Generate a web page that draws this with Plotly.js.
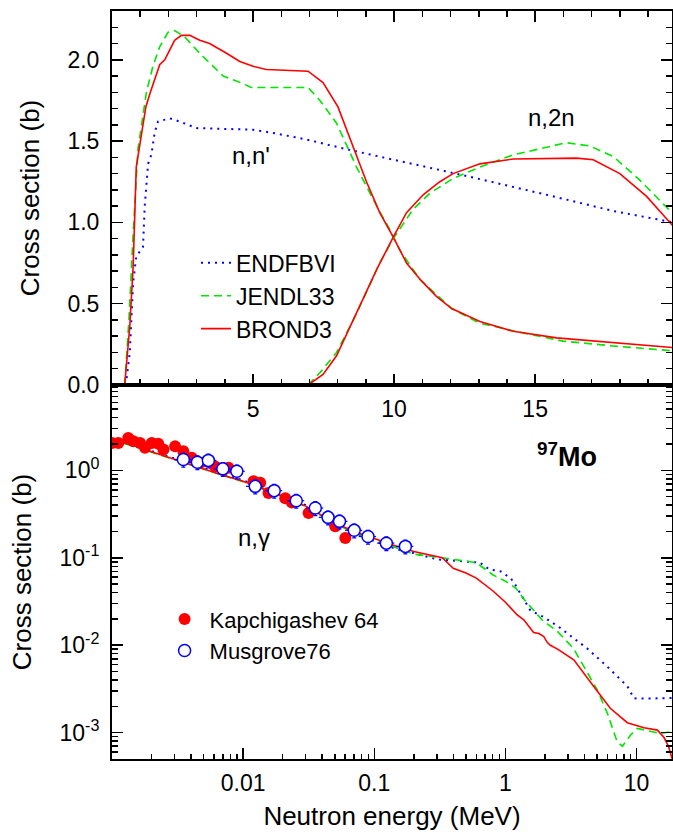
<!DOCTYPE html>
<html>
<head>
<meta charset="utf-8">
<script src="https://cdn.plot.ly/plotly-3.0.1.min.js"></script>
<style>html,body{margin:0;padding:0;background:#fff;}#chart{width:673px;height:839px;}</style>
</head>
<body>
<div id="chart"></div>
<script>
// ---------- Top panel: n,n' and n,2n (linear, MeV / barn) ----------
const brondNNx = [0.45, 0.63, 0.75, 0.86, 0.98, 1.10, 1.20, 1.34, 1.51, 1.69, 1.87, 2.05, 2.22, 2.46, 2.76, 3.11, 3.46, 4.06, 4.53, 5.0, 5.47, 6.95, 7.48, 8.01, 8.55, 9.02, 9.49, 9.97, 10.44, 10.97, 11.5, 12.04, 13.04, 14.22, 15.76, 17.77, 19.9];
const brondNNy = [0, 0.36, 0.73, 1.34, 1.47, 1.59, 1.71, 1.79, 1.88, 1.97, 2.00, 2.06, 2.12, 2.15, 2.15, 2.12, 2.10, 2.04, 1.99, 1.96, 1.94, 1.93, 1.86, 1.71, 1.47, 1.25, 1.06, 0.91, 0.75, 0.64, 0.545, 0.47, 0.39, 0.33, 0.29, 0.26, 0.23];

const jendlNNx = [0.45, 0.60, 0.75, 0.92, 1.22, 1.45, 1.69, 1.99, 2.22, 2.58, 3.11, 3.58, 3.94, 4.41, 4.94, 6.95, 7.37, 7.96, 8.67, 9.38, 9.85, 10.2, 10.91, 12.04, 13.04, 14.57, 15.99, 17.77, 19.9];
const jendlNNy = [0, 0.40, 0.93, 1.45, 1.80, 1.96, 2.08, 2.17, 2.18, 2.14, 2.04, 1.96, 1.90, 1.87, 1.83, 1.83, 1.75, 1.61, 1.34, 1.10, 0.955, 0.83, 0.65, 0.47, 0.38, 0.32, 0.27, 0.24, 0.21];

const endfNNx = [0.49, 0.63, 0.75, 0.86, 1.10, 1.16, 1.28, 1.40, 1.51, 1.63, 2.05, 2.40, 2.99, 5.0, 5.71, 6.89, 8.31, 9.49, 10.2, 12.45, 15.4, 17.77, 19.9];
const endfNNy = [0, 0.20, 0.63, 0.79, 0.85, 1.10, 1.36, 1.42, 1.55, 1.62, 1.64, 1.62, 1.58, 1.57, 1.55, 1.51, 1.45, 1.405, 1.375, 1.29, 1.17, 1.07, 1.0];

const brondN2Nx = [6.95, 7.48, 7.96, 8.55, 9.38, 9.97, 10.44, 11.03, 11.62, 12.09, 13.04, 14.22, 16.47, 17.06, 18.0, 18.95, 19.9];
const brondN2Ny = [0, 0.065, 0.18, 0.40, 0.71, 0.91, 1.06, 1.17, 1.25, 1.30, 1.36, 1.39, 1.395, 1.385, 1.30, 1.16, 0.975];

const jendlN2Nx = [6.95, 7.37, 7.96, 8.67, 9.49, 9.97, 10.67, 11.27, 12.09, 13.04, 14.22, 15.17, 16.11, 16.94, 17.77, 18.71, 19.66, 19.9];
const jendlN2Ny = [0, 0.075, 0.20, 0.44, 0.75, 0.90, 1.08, 1.18, 1.27, 1.34, 1.415, 1.455, 1.49, 1.47, 1.405, 1.26, 1.09, 1.05];

// ---------- Bottom panel: n,gamma (log-log) ----------
const brondNGx = [0.001, 0.0015, 0.002, 0.003, 0.005, 0.007, 0.01, 0.015, 0.02, 0.03, 0.05, 0.07, 0.1, 0.15, 0.2, 0.3, 0.33, 0.4, 0.5, 0.6, 0.8, 1.0, 1.23, 1.38, 1.64, 1.8, 1.96, 2.08, 2.2, 2.48, 3.32, 4.7, 6.3, 8.5, 11.4, 14.4, 16.2, 17.5, 18.7];
const brondNGy = [2.25, 1.90, 1.63, 1.33, 1.03, 0.88, 0.75, 0.60, 0.51, 0.39, 0.25, 0.20, 0.165, 0.135, 0.118, 0.103, 0.100, 0.076, 0.067, 0.0585, 0.042, 0.031, 0.0222, 0.0195, 0.0140, 0.0136, 0.0126, 0.0108, 0.0100, 0.0091, 0.0068, 0.0034, 0.0019, 0.0013, 0.00114, 0.00107, 0.00088, 0.0007, 0.0005];

const jendlNGx = [0.001, 0.0015, 0.002, 0.003, 0.005, 0.007, 0.01, 0.015, 0.02, 0.03, 0.05, 0.07, 0.1, 0.15, 0.2, 0.33, 0.6, 0.8, 1.0, 1.2, 1.4, 1.9, 2.5, 3.3, 4.2, 5.0, 6.0, 7.1, 7.8, 9.0, 10.1, 15.2, 18.7];
const jendlNGy = [2.20, 1.87, 1.61, 1.32, 1.02, 0.87, 0.74, 0.59, 0.50, 0.385, 0.245, 0.195, 0.16, 0.13, 0.11, 0.100, 0.088, 0.064, 0.054, 0.045, 0.033, 0.0195, 0.0143, 0.0092, 0.0048, 0.0031, 0.00166, 0.00079, 0.0007, 0.00094, 0.00112, 0.00098, 0.00103];

const endfNGx = [0.001, 0.0015, 0.002, 0.003, 0.005, 0.007, 0.01, 0.015, 0.02, 0.03, 0.05, 0.07, 0.1, 0.15, 0.2, 0.3, 0.64, 0.75, 0.92, 1.1, 1.19, 1.30, 1.55, 1.96, 2.63, 3.32, 4.2, 5.97, 8.5, 9.55, 12.1, 19];
const endfNGy = [2.30, 1.95, 1.67, 1.36, 1.05, 0.90, 0.77, 0.61, 0.52, 0.40, 0.255, 0.195, 0.155, 0.125, 0.113, 0.096, 0.088, 0.074, 0.070, 0.058, 0.049, 0.039, 0.025, 0.021, 0.0157, 0.012, 0.0092, 0.0057, 0.0034, 0.00247, 0.00245, 0.0025];

const kapchE = [0.00100, 0.001117, 0.00133, 0.001455, 0.001637, 0.001786, 0.00201, 0.002254, 0.002466, 0.003027, 0.0035, 0.004055, 0.0047, 0.00528, 0.00611, 0.00773, 0.0120, 0.01349, 0.0156, 0.02094, 0.02355, 0.03155, 0.0504, 0.0601];
const kapchS = [2.05, 2.06, 2.35, 2.15, 2.06, 1.81, 2.06, 2.02, 1.73, 1.88, 1.65, 1.39, 1.22, 1.27, 1.11, 1.07, 0.75, 0.72, 0.55, 0.48, 0.43, 0.325, 0.229, 0.168];

const musgE = [0.0035, 0.00448, 0.00543, 0.0070, 0.00895, 0.01236, 0.01726, 0.0254, 0.0355, 0.0444, 0.0543, 0.0703, 0.0895, 0.1236, 0.1726];
const musgS = [1.33, 1.24, 1.30, 1.04, 0.975, 0.656, 0.586, 0.45, 0.371, 0.29, 0.261, 0.206, 0.175, 0.147, 0.135];

// Axis tick labels
const topXTicks = [5, 10, 15];
const topXText = ['5', '10', '15'];
const topYTicks = [0, 0.5, 1, 1.5, 2];
const topYText = ['0.0', '0.5', '1.0', '1.5', '2.0'];
const botXTicks = [0.01, 0.1, 1, 10];
const botXText = ['0.01', '0.1', '1', '10'];
const botYTicks = [0.001, 0.01, 0.1, 1];
const botYText = ['10<sup>-3</sup>', '10<sup>-2</sup>', '10<sup>-1</sup>', '10<sup>0</sup>'];

const RED = '#ff0000', GREEN = '#00e600', BLUE = '#0000ff';
const FONT = 'Liberation Sans, Arial, Helvetica, sans-serif';

const endfLine = {color: BLUE, width: 2, dash: '2px,5px'};
const jendlLine = {color: GREEN, width: 1.6, dash: '8px,5px'};
const brondLine = {color: RED, width: 1.6};

const traces = [
  {x: endfNNx, y: endfNNy, mode: 'lines', line: endfLine, name: 'ENDFBVI', xaxis: 'x', yaxis: 'y', legend: 'legend'},
  {x: jendlNNx, y: jendlNNy, mode: 'lines', line: jendlLine, name: 'JENDL33', xaxis: 'x', yaxis: 'y', legend: 'legend'},
  {x: brondNNx, y: brondNNy, mode: 'lines', line: brondLine, name: 'BROND3', xaxis: 'x', yaxis: 'y', legend: 'legend'},
  {x: jendlN2Nx, y: jendlN2Ny, mode: 'lines', line: jendlLine, name: 'JENDL33 n,2n', showlegend: false, xaxis: 'x', yaxis: 'y'},
  {x: brondN2Nx, y: brondN2Ny, mode: 'lines', line: brondLine, name: 'BROND3 n,2n', showlegend: false, xaxis: 'x', yaxis: 'y'},
  {x: endfNGx, y: endfNGy, mode: 'lines', line: endfLine, name: 'ENDFBVI n,g', showlegend: false, xaxis: 'x2', yaxis: 'y2'},
  {x: jendlNGx, y: jendlNGy, mode: 'lines', line: jendlLine, name: 'JENDL33 n,g', showlegend: false, xaxis: 'x2', yaxis: 'y2'},
  {x: brondNGx, y: brondNGy, mode: 'lines', line: brondLine, name: 'BROND3 n,g', showlegend: false, xaxis: 'x2', yaxis: 'y2'},
  {x: kapchE, y: kapchS, mode: 'markers', name: 'Kapchigashev 64', xaxis: 'x2', yaxis: 'y2', legend: 'legend2',
   marker: {symbol: 'circle', size: 12, color: RED, line: {width: 0}}},
  {x: musgE, y: musgS, mode: 'markers', name: 'Musgrove76', xaxis: 'x2', yaxis: 'y2', legend: 'legend2',
   marker: {symbol: 'circle', size: 12, color: '#ffffff', line: {color: BLUE, width: 1.5}},
   error_x: {type: 'percent', value: 15, color: BLUE, thickness: 1.2, width: 0},
   error_y: {type: 'percent', value: 18, color: BLUE, thickness: 1.2, width: 2}}
];

const tickFont = {family: FONT, size: 23, color: '#000'};
const axisCommon = {
  showline: true, linecolor: '#000', linewidth: 2, mirror: 'allticks',
  ticks: 'inside', ticklen: 11, tickwidth: 1.5, tickcolor: '#000',
  showgrid: false, zeroline: false, tickfont: tickFont, fixedrange: true
};

const layout = {
  width: 673, height: 839,
  margin: {l: 112, r: 1, t: 11, b: 80},
  paper_bgcolor: '#fff', plot_bgcolor: '#fff',
  font: {family: FONT, color: '#000'},
  showlegend: true,
  xaxis: Object.assign({}, axisCommon, {
    anchor: 'y', domain: [0, 1], range: [0, 19.85],
    tickmode: 'array', tickvals: topXTicks, ticktext: topXText, ticklabelstandoff: 2,
    minor: {tick0: 0, dtick: 1, ticks: 'inside', ticklen: 6, tickwidth: 1.5, tickcolor: '#000', showgrid: false}
  }),
  yaxis: Object.assign({}, axisCommon, {
    anchor: 'x', domain: [0.5, 1], range: [0, 2.3],
    tickmode: 'array', tickvals: topYTicks, ticktext: topYText, ticklabelstandoff: 6,
    minor: {tick0: 0, dtick: 0.1, ticks: 'inside', ticklen: 6, tickwidth: 1.5, tickcolor: '#000', showgrid: false},
    title: {text: 'Cross section (b)', font: {family: FONT, size: 26, color: '#000'}, standoff: 20}
  }),
  xaxis2: Object.assign({}, axisCommon, {
    anchor: 'y2', domain: [0, 1], type: 'log', range: [-3, 1.27], mirror: true,
    tickmode: 'array', tickvals: botXTicks, ticktext: botXText, ticklabelstandoff: 2,
    minor: {dtick: 'D1', ticks: 'inside', ticklen: 5, tickwidth: 1.5, tickcolor: '#000', showgrid: false},
    title: {text: 'Neutron energy (MeV)', font: {family: FONT, size: 26, color: '#000'}, standoff: 12}
  }),
  yaxis2: Object.assign({}, axisCommon, {
    anchor: 'x2', domain: [0, 0.5], type: 'log', range: [-3.301, 0.976],
    tickmode: 'array', tickvals: botYTicks, ticktext: botYText, ticklabelstandoff: 6,
    minor: {dtick: 'D1', ticks: 'inside', ticklen: 6, tickwidth: 1.5, tickcolor: '#000', showgrid: false},
    title: {text: 'Cross section (b)', font: {family: FONT, size: 26, color: '#000'}, standoff: 20}
  }),
  legend: {
    x: 0.15, y: 0.692, xanchor: 'left', yanchor: 'top',
    bgcolor: 'rgba(0,0,0,0)', borderwidth: 0, font: {family: FONT, size: 23, color: '#000'},
    traceorder: 'normal', itemwidth: 30, tracegroupgap: 0
  },
  legend2: {
    x: 0.085, y: 0.215, xanchor: 'left', yanchor: 'top',
    bgcolor: 'rgba(0,0,0,0)', borderwidth: 0, font: {family: FONT, size: 22, color: '#000'},
    traceorder: 'normal', itemwidth: 40
  },
  annotations: [
    {xref: 'x', yref: 'y', x: 4.92, y: 1.41, text: "n,n'", showarrow: false, font: {family: FONT, size: 24, color: '#000'}},
    {xref: 'x', yref: 'y', x: 15.59, y: 1.643, text: 'n,2n', showarrow: false, font: {family: FONT, size: 24, color: '#000'}},
    {xref: 'x2', yref: 'y2', x: -1.916, y: -0.771, text: 'n,γ', showarrow: false, font: {family: FONT, size: 24, color: '#000'}},
    {xref: 'x2', yref: 'y2', x: 0.473, y: 0.18, text: '<b><sup>97</sup>Mo</b>', showarrow: false, font: {family: FONT, size: 27, color: '#000'}}
  ]
};

Plotly.newPlot('chart', traces, layout, {displayModeBar: false, staticPlot: true});
</script>
</body>
</html>
